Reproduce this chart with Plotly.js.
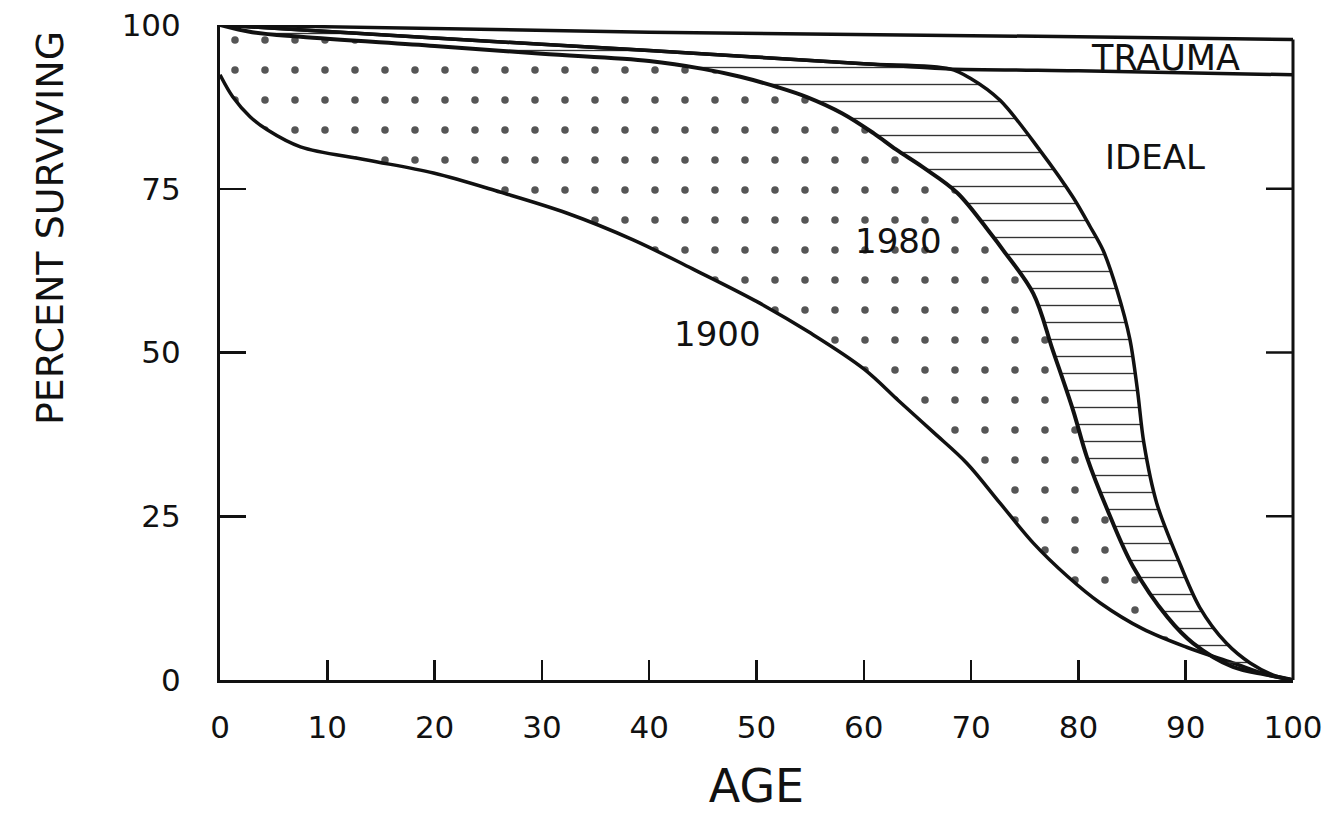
<!DOCTYPE html>
<html>
<head>
<meta charset="utf-8">
<script src="https://cdn.plot.ly/plotly-3.0.1.min.js"></script>
<style>
html,body{margin:0;padding:0;background:#ffffff;}
#chart{width:1333px;height:813px;}
</style>
</head>
<body>
<div id="chart"></div>
<script>
// ---- data ----
const age1900 = [0, 1.2, 2.8, 4.4, 7.5, 13.7, 19.9, 26.1, 32.3, 38.5, 44, 50, 55, 60, 63.4, 66.5, 69.6, 72.7, 75.8, 79, 82, 86, 90.1, 94.4, 97.6, 100];
const pct1900 = [92.4, 89, 86, 84, 81.4, 79.4, 77.4, 74.5, 71.3, 67.2, 62.8, 57.8, 53, 47.5, 42.4, 37.8, 33.1, 27, 20.9, 15.8, 11.8, 7.8, 5.0, 2.6, 0.8, 0];

const age1980 = [0, 3, 7.5, 20, 30, 40, 45, 48.5, 52, 54.7, 58, 60.9, 63, 65.5, 68.7, 71.8, 73, 75.8, 77.6, 79.5, 80.8, 82.7, 85.1, 88.3, 90.7, 94.4, 97.6, 100];
const pct1980 = [100, 98.9, 98.2, 96.8, 95.6, 94.5, 93.3, 92.1, 90.5, 89, 86.5, 83.5, 81, 78.3, 74.4, 68.2, 65.6, 59, 50.4, 41.2, 34, 26, 17.3, 9.6, 5.6, 2, 0.8, 0];

// lower edge of the trauma band (the ideal curve follows it until it drops)
const ageTraumaLow = [0, 20, 40, 60, 68, 80, 100];
const pctTraumaLow = [100, 98.0, 96.1, 94.1, 93.3, 93.0, 92.4];
// upper edge of the trauma band
const ageTraumaHigh = [0, 40, 80, 100];
const pctTraumaHigh = [100, 98.9, 98.2, 97.8];

// steep part of the ideal curve
const ageIdealDrop = [70, 72.7, 76.4, 79.5, 81.1, 82.3, 83.6, 84.8, 85.5, 86.1, 87.3, 89.2, 91.3, 93.8, 96, 98.1, 100];
const pctIdealDrop = [91.8, 88.5, 80.9, 73.7, 69.2, 65.6, 59.5, 52, 44.3, 36.2, 27, 18.8, 11.1, 5.6, 2.6, 0.8, 0];
const idealBranchAge = 68;

const xTicks = [0, 10, 20, 30, 40, 50, 60, 70, 80, 90, 100];
const yTicks = [0, 25, 50, 75, 100];
const curveLabels = ["TRAUMA", "IDEAL", "1980", "1900"];
const xTitle = 'AGE';
const yTitle = 'PERCENT SURVIVING';

// ideal curve = trauma floor up to the branch point, then the drop
const ageIdeal = ageTraumaLow.filter(a => a <= idealBranchAge).concat(ageIdealDrop);
const pctIdeal = pctTraumaLow.filter((p, i) => ageTraumaLow[i] <= idealBranchAge).concat(pctIdealDrop);

const ink = '#111111';
const FONT = 'DejaVu Sans, Liberation Sans, sans-serif';

const traces = [
  {
    x: age1900, y: pct1900, type: 'scatter', mode: 'lines', name: '1900',
    line: {color: ink, width: 3.5, shape: 'spline', smoothing: 1}
  },
  {
    x: age1980, y: pct1980, type: 'scatter', mode: 'lines', name: '1980',
    line: {color: ink, width: 4, shape: 'spline', smoothing: 1},
    fill: 'tonexty', fillcolor: 'rgba(255,255,255,0)',
    fillpattern: {shape: '.', size: 30, solidity: 0.05, fgcolor: '#555555', bgcolor: 'rgba(0,0,0,0)'}
  },
  {
    x: ageIdeal, y: pctIdeal, type: 'scatter', mode: 'lines', name: 'IDEAL',
    line: {color: ink, width: 3.5, shape: 'spline', smoothing: 0.9},
    fill: 'tonexty', fillcolor: 'rgba(255,255,255,0)',
    fillpattern: {shape: '-', size: 17, solidity: 0.08, fgcolor: '#333333', bgcolor: 'rgba(0,0,0,0)'}
  },
  {
    x: ageTraumaLow, y: pctTraumaLow, type: 'scatter', mode: 'lines', name: 'trauma floor',
    line: {color: ink, width: 3.5, shape: 'spline', smoothing: 0.6}
  },
  {
    x: ageTraumaHigh, y: pctTraumaHigh, type: 'scatter', mode: 'lines', name: 'trauma top',
    line: {color: ink, width: 3.5}
  }
];

const xMax = xTicks[xTicks.length - 1];
const shapes = [
  // right frame line, up to the top of the trauma band
  {type: 'line', xref: 'paper', yref: 'y', x0: 1, x1: 1, y0: 0, y1: pctTraumaHigh[pctTraumaHigh.length - 1],
   line: {color: ink, width: 3}}
];
yTicks.filter(v => v > 0 && v < 100).forEach(v => {
  shapes.push({type: 'line', xref: 'x', yref: 'y', xsizemode: 'pixel', xanchor: xMax,
    x0: -27, x1: 0, y0: v, y1: v, line: {color: ink, width: 2.5}});
});

const annotations = [
  {x: 88.1, y: 95.0, text: curveLabels[0], size: 35},
  {x: 87.1, y: 79.8, text: curveLabels[1], size: 34},
  {x: 63.2, y: 67.0, text: curveLabels[2], size: 34},
  {x: 46.4, y: 52.8, text: curveLabels[3], size: 34}
].map(a => ({xref: 'x', yref: 'y', x: a.x, y: a.y, text: a.text, showarrow: false,
  xanchor: 'center', yanchor: 'middle', font: {family: FONT, size: a.size, color: ink}}));

// y-axis title, placed high on the left as in the reference
annotations.push({
  xref: 'paper', yref: 'paper', x: 0, y: 0.69, xshift: -170, text: yTitle, textangle: -90,
  showarrow: false, xanchor: 'center', yanchor: 'middle',
  font: {family: FONT, size: 38, color: ink}
});

const layout = {
  width: 1333, height: 813,
  margin: {l: 220, r: 40, t: 25, b: 133},
  paper_bgcolor: '#ffffff', plot_bgcolor: '#ffffff',
  showlegend: false,
  font: {family: FONT, color: ink},
  xaxis: {
    range: [0, 100], tickvals: xTicks, ticktext: xTicks.map(String),
    ticks: 'inside', ticklen: 20, tickwidth: 2.5, tickcolor: ink,
    showline: true, linecolor: ink, linewidth: 3,
    showgrid: false, zeroline: false,
    tickfont: {family: FONT, size: 31, color: ink},
    ticklabelstandoff: 18,
    automargin: false,
    title: {text: xTitle, font: {family: FONT, size: 46, color: ink}, standoff: 44}
  },
  yaxis: {
    range: [0, 100], tickvals: yTicks, ticktext: yTicks.map(String),
    ticks: 'inside', ticklen: 26, tickwidth: 2.5, tickcolor: ink,
    showline: true, linecolor: ink, linewidth: 3,
    showgrid: false, zeroline: false,
    tickfont: {family: FONT, size: 31, color: ink},
    ticklabelstandoff: 30,
    automargin: false,
    title: {text: ''}
  },
  shapes: shapes,
  annotations: annotations
};

Plotly.newPlot('chart', traces, layout, {staticPlot: true, displayModeBar: false});
</script>
</body>
</html>
